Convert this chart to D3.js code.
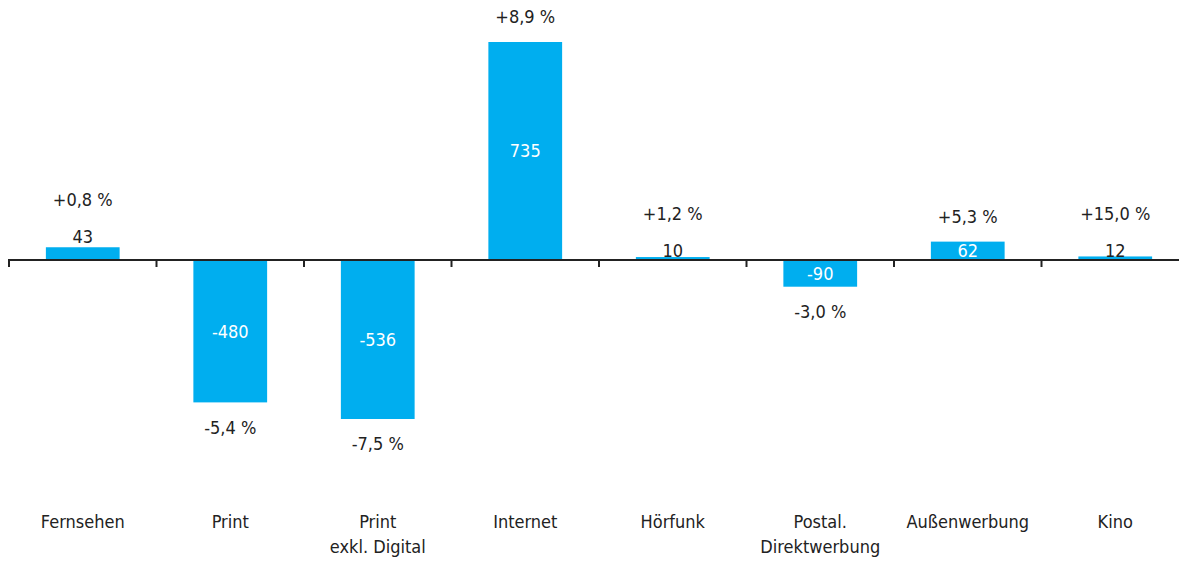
<!DOCTYPE html>
<html>
<head>
<meta charset="utf-8">
<script src="https://cdn.jsdelivr.net/npm/d3@7"></script>
<style>
  body { margin: 0; background: #fff; }
  text { font-family: "Liberation Sans Narrow", "DejaVu Sans Condensed", sans-serif; }
</style>
</head>
<body>
<div id="chart"></div>
<script>
// data
const categories = ["Fernsehen", "Print", "Print\nexkl. Digital", "Internet", "Hörfunk", "Postal.\nDirektwerbung", "Außenwerbung", "Kino"];
const values = [43, -480, -536, 735, 10, -90, 62, 12];
const percents = ["+0,8 %", "-5,4 %", "-7,5 %", "+8,9 %", "+1,2 %", "-3,0 %", "+5,3 %", "+15,0 %"];
// value label placement: "in" = white inside the bar, "out" = dark above the bar
const labelPos = ["out", "in", "in", "in", "out", "in", "in", "out"];

const width = 1179, height = 561;
const barColor = "#00aeef", textColor = "#222";
const fs = 18;

const svg = d3.select("#chart").append("svg")
    .attr("width", width)
    .attr("height", height);

const x = d3.scaleBand()
    .domain(d3.range(categories.length))
    .range([9, 1189])
    .paddingInner(0.5)
    .paddingOuter(0.25);

const y = d3.scaleLinear()
    .domain([-536, 735])
    .range([419, 42]);

const step = x.step();
const y0 = Math.round(y(0));

// bars
svg.selectAll("rect.bar")
    .data(values)
    .enter().append("rect")
    .attr("class", "bar")
    .attr("x", (d, i) => x(i))
    .attr("width", x.bandwidth())
    .attr("y", d => Math.min(y(d), y(0)))
    .attr("height", d => Math.abs(y(d) - y(0)))
    .attr("fill", barColor);

// axis line + ticks at band boundaries
svg.append("line")
    .attr("x1", 8).attr("x2", width)
    .attr("y1", y0).attr("y2", y0)
    .attr("stroke", textColor).attr("stroke-width", 2.2);

svg.selectAll("line.tick")
    .data(d3.range(categories.length + 1))
    .enter().append("line")
    .attr("class", "tick")
    .attr("x1", i => 9 + i * step).attr("x2", i => 9 + i * step)
    .attr("y1", y0).attr("y2", y0 + 7)
    .attr("stroke", textColor).attr("stroke-width", 2);

// where the value label sits
function valueY(d, i) {
    if (labelPos[i] === "in") return (y(d) + y(0)) / 2;
    // very small bars: label straddles the bar, else just above it
    return d > 20 ? y(d) - 11 : y(0) - 9;
}

// value labels
svg.selectAll("text.value")
    .data(values)
    .enter().append("text")
    .attr("class", "value")
    .attr("x", (d, i) => x(i) + x.bandwidth() / 2)
    .attr("y", valueY)
    .attr("dy", "0.35em")
    .attr("text-anchor", "middle")
    .attr("font-size", fs)
    .attr("fill", (d, i) => labelPos[i] === "in" ? "#fff" : textColor)
    .text(d => d);

// percent labels
svg.selectAll("text.pct")
    .data(values)
    .enter().append("text")
    .attr("class", "pct")
    .attr("x", (d, i) => x(i) + x.bandwidth() / 2)
    .attr("y", (d, i) => {
        if (d < 0) return y(d) + 25;
        if (labelPos[i] === "out") return valueY(d, i) - 37;
        return y(d) - 25;
    })
    .attr("dy", "0.35em")
    .attr("text-anchor", "middle")
    .attr("font-size", fs)
    .attr("fill", textColor)
    .text((d, i) => percents[i]);

// category labels
const cat = svg.selectAll("text.cat")
    .data(categories)
    .enter().append("text")
    .attr("class", "cat")
    .attr("text-anchor", "middle")
    .attr("font-size", fs)
    .attr("fill", textColor)
    .attr("transform", (d, i) => `translate(${x(i) + x.bandwidth() / 2},522)`);

cat.selectAll("tspan")
    .data(d => d.split("\n"))
    .enter().append("tspan")
    .attr("x", 0)
    .attr("y", (d, j) => j * 25)
    .attr("dy", "0.35em")
    .text(d => d);
</script>
</body>
</html>
